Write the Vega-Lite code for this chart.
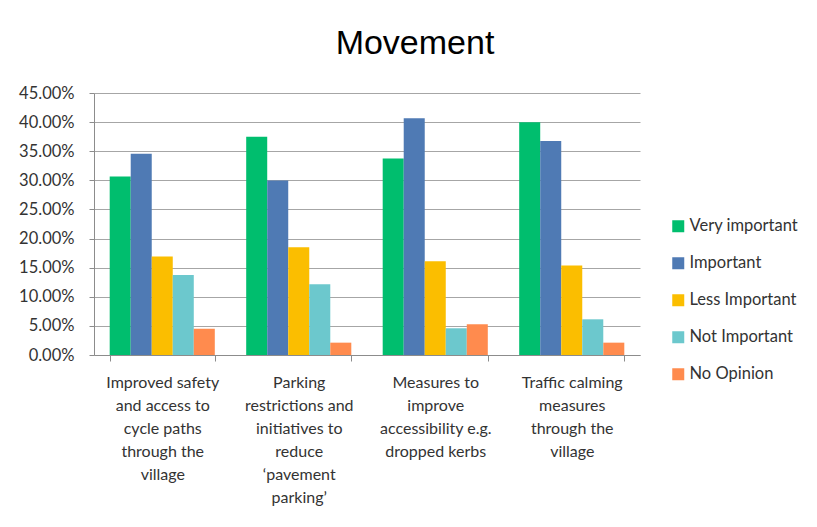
{
  "$schema": "https://vega.github.io/schema/vega-lite/v6.json",
  "width": 546,
  "height": 262,
  "autosize": "none",
  "padding": {"left": 94, "top": 93, "right": 177, "bottom": 172},
  "background": "white",
  "title": {
    "text": "Movement",
    "font": "Liberation Sans",
    "fontSize": 34,
    "fontWeight": "normal",
    "color": "#000000",
    "anchor": "middle",
    "dx": 48,
    "baseline": "alphabetic",
    "offset": -3
  },
  "data": {
    "values": [
      {"cat": "Improved safety|and access to|cycle paths|through the|village", "series": "Very important", "value": 0.3067},
      {"cat": "Improved safety|and access to|cycle paths|through the|village", "series": "Important", "value": 0.3457},
      {"cat": "Improved safety|and access to|cycle paths|through the|village", "series": "Less Important", "value": 0.1691},
      {"cat": "Improved safety|and access to|cycle paths|through the|village", "series": "Not Important", "value": 0.1376},
      {"cat": "Improved safety|and access to|cycle paths|through the|village", "series": "No Opinion", "value": 0.0453},
      {"cat": "Parking|restrictions and|initiatives to|reduce|‘pavement|parking’", "series": "Very important", "value": 0.375},
      {"cat": "Parking|restrictions and|initiatives to|reduce|‘pavement|parking’", "series": "Important", "value": 0.2999},
      {"cat": "Parking|restrictions and|initiatives to|reduce|‘pavement|parking’", "series": "Less Important", "value": 0.1852},
      {"cat": "Parking|restrictions and|initiatives to|reduce|‘pavement|parking’", "series": "Not Important", "value": 0.1216},
      {"cat": "Parking|restrictions and|initiatives to|reduce|‘pavement|parking’", "series": "No Opinion", "value": 0.0212},
      {"cat": "Measures to|improve|accessibility e.g.|dropped kerbs", "series": "Very important", "value": 0.3377},
      {"cat": "Measures to|improve|accessibility e.g.|dropped kerbs", "series": "Important", "value": 0.4065},
      {"cat": "Measures to|improve|accessibility e.g.|dropped kerbs", "series": "Less Important", "value": 0.1611},
      {"cat": "Measures to|improve|accessibility e.g.|dropped kerbs", "series": "Not Important", "value": 0.0459},
      {"cat": "Measures to|improve|accessibility e.g.|dropped kerbs", "series": "No Opinion", "value": 0.0528},
      {"cat": "Traffic calming|measures|through the|village", "series": "Very important", "value": 0.3997},
      {"cat": "Traffic calming|measures|through the|village", "series": "Important", "value": 0.3675},
      {"cat": "Traffic calming|measures|through the|village", "series": "Less Important", "value": 0.1537},
      {"cat": "Traffic calming|measures|through the|village", "series": "Not Important", "value": 0.0613},
      {"cat": "Traffic calming|measures|through the|village", "series": "No Opinion", "value": 0.0212}
    ]
  },
  "mark": {"type": "bar"},
  "encoding": {
    "x": {
      "field": "cat",
      "type": "nominal",
      "sort": null,
      "title": null,
      "scale": {"paddingInner": 0.23, "paddingOuter": 0.115},
      "axis": {
        "labelExpr": "split(datum.label, '|')",
        "labelAngle": 0,
        "labelFont": "Lato",
        "labelFontSize": 16,
        "labelColor": "#333333",
        "labelLineHeight": 23,
        "labelBaseline": "top",
        "labelPadding": 13,
        "labelLimit": 0,
        "tickBand": "extent",
        "tickSize": 6,
        "tickColor": "#8c8c8c",
        "domainColor": "#8c8c8c",
        "grid": false
      }
    },
    "xOffset": {
      "field": "series",
      "type": "nominal",
      "sort": ["Very important", "Important", "Less Important", "Not Important", "No Opinion"],
      "scale": {"paddingInner": 0, "paddingOuter": 0}
    },
    "y": {
      "field": "value",
      "type": "quantitative",
      "title": null,
      "scale": {"domain": [0, 0.45], "nice": false},
      "axis": {
        "values": [0, 0.05, 0.1, 0.15, 0.2, 0.25, 0.3, 0.35, 0.4, 0.45],
        "format": ".2%",
        "labelFont": "Lato",
        "labelFontSize": 16.5,
        "labelColor": "#333333",
        "labelPadding": 15,
        "tickSize": 5,
        "tickColor": "#8c8c8c",
        "domainColor": "#8c8c8c",
        "gridColor": "#a6a6a6",
        "gridWidth": 1
      }
    },
    "color": {
      "field": "series",
      "type": "nominal",
      "sort": ["Very important", "Important", "Less Important", "Not Important", "No Opinion"],
      "scale": {
        "domain": ["Very important", "Important", "Less Important", "Not Important", "No Opinion"],
        "range": ["#00BE6E", "#4F7AB4", "#FBBE00", "#6CC8CD", "#FF8B4E"]
      },
      "legend": {
        "title": null,
        "orient": "none",
        "legendX": 576,
        "legendY": 125,
        "symbolType": "square",
        "symbolSize": 144,
        "symbolStrokeWidth": 0,
        "labelFont": "Lato",
        "labelFontSize": 16.5,
        "labelColor": "#333333",
        "labelOffset": 3,
        "rowPadding": 20
      }
    }
  },
  "config": {
    "view": {"stroke": null}
  }
}
